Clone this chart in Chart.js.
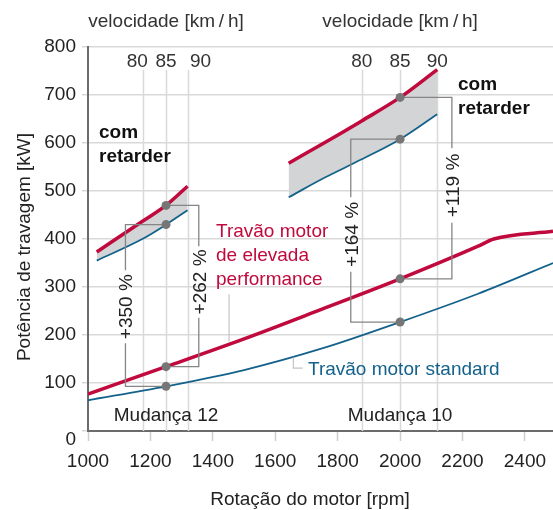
<!DOCTYPE html>
<html>
<head>
<meta charset="utf-8">
<script src="https://cdn.jsdelivr.net/npm/chart.js@4.4.0/dist/chart.umd.min.js"></script>
<style>
html, body { margin: 0; padding: 0; background: #fff; }
#wrap { width: 553px; height: 510px; position: relative; }
</style>
</head>
<body>
<div id="wrap"><canvas id="myChart"></canvas></div>
<script>
// potência de travagem [kW] vs rotação do motor [rpm]
const rpmTicks = [1000, 1200, 1400, 1600, 1800, 2000, 2200, 2400];

const rpmStandard = [1000, 1250, 1500, 1750, 2000, 2250, 2490];
const kwStandard  = [64, 93, 127, 172, 227, 286, 350];

const rpmPerf = [1000, 1250, 1500, 1750, 2000, 2250, 2300, 2490];
const kwPerf  = [77, 134, 192, 254, 317, 385, 400, 416];

// com retarder
const rpmRetG12 = [1028, 1177, 1250, 1319];
const kwRetPerfG12 = [373, 438, 470, 510];
const kwRetStdG12 = [355, 401, 430, 460];

const rpmRetG10 = [1643, 1759, 1877, 2000, 2119];
const kwRetPerfG10 = [558, 601, 646, 695, 753];
const kwRetStdG10 = [487, 528, 566, 608, 660];

// pontos marcados
const dotRpm = [1250, 1250, 1250, 1250, 2000, 2000, 2000, 2000];
const dotKw  = [134, 93, 470, 430, 317, 227, 695, 608];

// ganhos em %
const pctLabels   = ['+350 %', '+262 %', '+164 %', '+119 %'];
const pctFromRpm  = [1250, 1250, 2000, 2000];
const pctRpm      = [1120, 1355, 1842, 2166];
const pctTopKw    = [430, 470, 608, 695];
const pctBottomKw = [93, 134, 227, 317];
const pctGapHigh  = [335, 385, 487, 589];
const pctGapLow   = [183, 236, 332, 434];

// velocidade [km/h]
const speedLabels = ['80', '85', '90'];
const speedRpmG12 = [1177, 1250, 1319];
const speedRpmG10 = [1877, 2000, 2119];

const leaderPerfRpm = [1452, 1452];
const leaderPerfKw  = [285, 186];
const leaderStdRpm  = [1658, 1658, 1688];
const leaderStdKw   = [153, 131, 131];

const RED = '#c0093d';
const BLUE = '#14628b';
const FONT = '"Liberation Sans", Arial, sans-serif';

Chart.defaults.font.family = FONT;
Chart.defaults.font.size = 19;
Chart.defaults.color = '#222';

function pts(xs, ys) {
    return xs.map((x, i) => ({x: x, y: ys[i]}));
}

function bracket(i) {
    return [
        {x: pctFromRpm[i], y: pctTopKw[i]},
        {x: pctRpm[i], y: pctTopKw[i]},
        {x: pctRpm[i], y: pctGapHigh[i]},
        {x: pctRpm[i], y: null},
        {x: pctRpm[i], y: pctGapLow[i]},
        {x: pctRpm[i], y: pctBottomKw[i]},
        {x: pctFromRpm[i], y: pctBottomKw[i]}
    ];
}

var datasets = [];
datasets.push({
    data: pts(dotRpm, dotKw),
    showLine: false,
    pointRadius: 4.5,
    pointBackgroundColor: '#767676',
    pointBorderWidth: 0
});
pctLabels.forEach((l, i) => {
    datasets.push({
        data: bracket(i),
        borderColor: '#858585',
        borderWidth: 1.3,
        tension: 0,
        spanGaps: false
    });
});
datasets.push({data: pts(leaderPerfRpm, leaderPerfKw), borderColor: '#c4c4c4', borderWidth: 1.2, tension: 0});
datasets.push({data: pts(leaderStdRpm, leaderStdKw), borderColor: '#c4c4c4', borderWidth: 1.2, tension: 0});
datasets.push({data: pts(rpmPerf, kwPerf), borderColor: RED, borderWidth: 3.5, cubicInterpolationMode: 'monotone'});
datasets.push({data: pts(rpmStandard, kwStandard), borderColor: BLUE, borderWidth: 1.8, cubicInterpolationMode: 'monotone'});
datasets.push({data: pts(rpmRetG12, kwRetStdG12), borderColor: BLUE, borderWidth: 1.8, cubicInterpolationMode: 'monotone'});
datasets.push({data: pts(rpmRetG12, kwRetPerfG12), borderColor: RED, borderWidth: 3.5, cubicInterpolationMode: 'monotone',
    fill: '-1', backgroundColor: '#d3d4d6'});
datasets.push({data: pts(rpmRetG10, kwRetStdG10), borderColor: BLUE, borderWidth: 1.8, cubicInterpolationMode: 'monotone'});
datasets.push({data: pts(rpmRetG10, kwRetPerfG10), borderColor: RED, borderWidth: 3.5, cubicInterpolationMode: 'monotone',
    fill: '-1', backgroundColor: '#d3d4d6'});

function text(ctx, str, x, y, align, font, color) {
    ctx.save();
    ctx.font = font || ('19px ' + FONT);
    ctx.fillStyle = color || '#222';
    ctx.textAlign = align || 'left';
    ctx.textBaseline = 'alphabetic';
    ctx.fillText(str, x, y);
    ctx.restore();
}

function vtext(ctx, str, x, y, color) {
    ctx.save();
    ctx.translate(x, y);
    ctx.rotate(-Math.PI / 2);
    ctx.font = '19px ' + FONT;
    ctx.fillStyle = color || '#222';
    ctx.textAlign = 'center';
    ctx.textBaseline = 'alphabetic';
    ctx.fillText(str, 0, 6.8);
    ctx.restore();
}

const speedLines = {
    id: 'speedLines',
    beforeDatasetsDraw(chart) {
        const ctx = chart.ctx, xs = chart.scales.x, area = chart.chartArea;
        ctx.save();
        ctx.strokeStyle = '#d9d9d9';
        ctx.lineWidth = 1.5;
        speedRpmG12.concat(speedRpmG10).forEach(v => {
            const px = Math.round(xs.getPixelForValue(v)) + 0.5;
            ctx.beginPath();
            ctx.moveTo(px, area.top + 23);
            ctx.lineTo(px, area.bottom);
            ctx.stroke();
        });
        ctx.restore();
    }
};

const labels = {
    id: 'labels',
    afterDraw(chart) {
        const ctx = chart.ctx, xs = chart.scales.x, ys = chart.scales.y;
        const bold = 'bold 19px ' + FONT;

        // eixo superior: velocidade
        text(ctx, 'velocidade [km\u2009/\u2009h]', xs.getPixelForValue(1250), 27, 'center', null, '#333');
        text(ctx, 'velocidade [km\u2009/\u2009h]', xs.getPixelForValue(2000), 27, 'center', null, '#333');
        const offG12 = [-6, 0, 13];
        speedLabels.forEach((s, i) => {
            text(ctx, s, xs.getPixelForValue(speedRpmG12[i]) + offG12[i], 67, 'center', null, '#333');
            text(ctx, s, xs.getPixelForValue(speedRpmG10[i]), 67, 'center', null, '#333');
        });

        text(ctx, 'com', 99, 138, 'left', bold, '#111');
        text(ctx, 'retarder', 99, 162, 'left', bold, '#111');
        text(ctx, 'com', 458, 90, 'left', bold, '#111');
        text(ctx, 'retarder', 458, 114, 'left', bold, '#111');

        text(ctx, 'Travão motor', 216, 237, 'left', null, RED);
        text(ctx, 'de elevada', 216, 261, 'left', null, RED);
        text(ctx, 'performance', 216, 285, 'left', null, RED);
        text(ctx, 'Travão motor standard', 308, 375, 'left', null, BLUE);

        text(ctx, 'Mudança 12', xs.getPixelForValue(1250), 421, 'center', null, '#222');
        text(ctx, 'Mudança 10', xs.getPixelForValue(2000), 421, 'center', null, '#222');

        pctLabels.forEach((l, i) => {
            const cy = ys.getPixelForValue((pctGapHigh[i] + pctGapLow[i]) / 2);
            vtext(ctx, l, xs.getPixelForValue(pctRpm[i]), cy, '#222');
        });

        // rótulo 0 e títulos dos eixos
        text(ctx, '0', 76, 445, 'right', null, '#222');
        text(ctx, 'Rotação do motor [rpm]', 310, 505, 'center', null, '#222');
        ctx.save();
        ctx.translate(30, 247);
        ctx.rotate(-Math.PI / 2);
        ctx.font = '19px ' + FONT;
        ctx.fillStyle = '#222';
        ctx.textAlign = 'center';
        ctx.fillText('Potência de travagem [kW]', 0, 0);
        ctx.restore();
    }
};

new Chart(document.getElementById('myChart'), {
    type: 'line',
    data: {datasets: datasets},
    plugins: [speedLines, labels],
    options: {
        responsive: true,
        maintainAspectRatio: false,
        animation: false,
        events: [],
        layout: {autoPadding: false, padding: {top: 47, right: 0, bottom: 0, left: 0}},
        elements: {point: {radius: 0}, line: {fill: false}},
        plugins: {legend: {display: false}, tooltip: {enabled: false}},
        scales: {
            x: {
                type: 'linear',
                min: 1000,
                max: 2490,
                afterBuildTicks: s => { s.ticks = rpmTicks.map(v => ({value: v})); },
                afterFit: s => { s.height = 79; s.paddingLeft = 0; s.paddingRight = 0; },
                ticks: {padding: 9, maxRotation: 0, color: '#222', callback: v => String(v)},
                grid: {drawOnChartArea: false, drawTicks: true, tickLength: 10, tickColor: '#cfcfcf', tickWidth: 1.5},
                border: {display: true, color: '#6b6b6b', width: 2}
            },
            y: {
                min: 0,
                max: 800,
                afterFit: s => { s.width = 88; s.paddingTop = 0; s.paddingBottom = 0; },
                ticks: {stepSize: 100, padding: 6, color: '#222', callback: v => v === 0 ? '' : String(v)},
                grid: {color: '#d9d9d9', lineWidth: 1.5, tickLength: 6},
                border: {display: true, color: '#6b6b6b', width: 2}
            }
        }
    }
});
</script>
</body>
</html>
